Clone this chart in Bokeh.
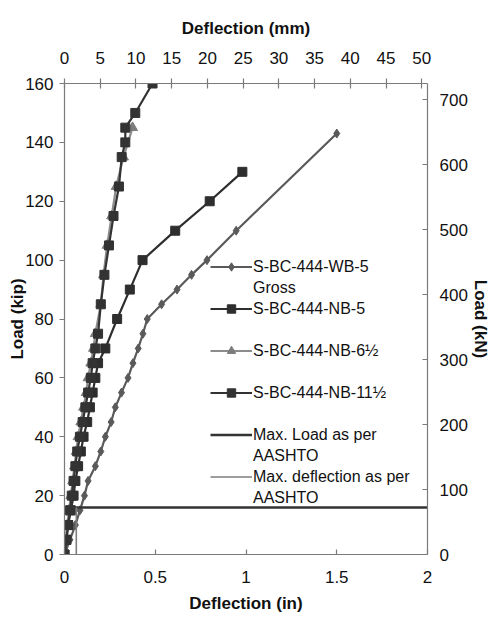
import math
from bokeh.plotting import figure
from bokeh.models import Range1d, LinearAxis, FixedTicker, Legend, LegendItem, NumeralTickFormatter
from bokeh.embed import file_html
from bokeh.resources import INLINE

# ---------------- data (deflection in inches, load in kip) ----------------
wb5_load = [0, 5, 10, 15, 20, 25, 30, 35, 40, 45, 50, 55, 60, 65, 70, 75, 80, 85, 90, 95, 100, 110, 143]
wb5_defl = [0, 0.03, 0.06, 0.085, 0.11, 0.13, 0.17, 0.20, 0.225, 0.257, 0.28, 0.314, 0.35, 0.377,
            0.406, 0.432, 0.456, 0.535, 0.62, 0.70, 0.785, 0.946, 1.50]

nb5_load = [0, 5, 10, 15, 20, 25, 30, 35, 40, 45, 50, 55, 60, 65, 70, 80, 90, 100, 110, 120, 130]
nb5_defl = [0, 0.01, 0.02, 0.035, 0.05, 0.06, 0.075, 0.09, 0.105, 0.125, 0.14, 0.155, 0.17, 0.185,
            0.225, 0.29, 0.36, 0.43, 0.61, 0.80, 0.98]

nb6_load = [0, 5, 10, 15, 20, 25, 30, 35, 40, 45, 50, 55, 60, 65, 70, 75, 85, 95, 105, 115, 125, 135, 145]
nb6_defl = [0, 0.005, 0.015, 0.025, 0.035, 0.045, 0.055, 0.065, 0.075, 0.09, 0.105, 0.12, 0.13, 0.145,
            0.16, 0.17, 0.20, 0.215, 0.235, 0.26, 0.285, 0.325, 0.375]

nb11_load = [0, 5, 10, 15, 20, 25, 30, 35, 40, 45, 50, 55, 60, 65, 70, 75, 85, 95, 105, 115, 125, 135,
             140, 145, 150, 160]
nb11_defl = [0, 0.01, 0.02, 0.03, 0.04, 0.05, 0.06, 0.07, 0.085, 0.10, 0.115, 0.13, 0.145, 0.155, 0.17,
             0.185, 0.20, 0.22, 0.245, 0.27, 0.30, 0.315, 0.335, 0.335, 0.39, 0.485]

max_load_kip = 16
max_defl_in = 0.065

x_min_in, x_max_in = 0, 2
y_min_kip, y_max_kip = 0, 160
x_ticks_in = [0, 0.5, 1, 1.5, 2]
y_ticks_kip = [0, 20, 40, 60, 80, 100, 120, 140, 160]
x_ticks_mm = [0, 5, 10, 15, 20, 25, 30, 35, 40, 45, 50]
y_ticks_kn = [0, 100, 200, 300, 400, 500, 600, 700]
mm_max = 50.8
kn_max = 725

labels = ["S-BC-444-WB-5", "Gross", "S-BC-444-NB-5", " ", "S-BC-444-NB-6\u00bd", " ",
          "S-BC-444-NB-11\u00bd", " ", "Max. Load as per", "AASHTO", "Max. deflection as per", "AASHTO"]

FONT = "Liberation Sans"

p = figure(width=492, height=616, output_backend="svg", toolbar_location=None,
           x_range=Range1d(x_min_in, x_max_in), y_range=Range1d(y_min_kip, y_max_kip),
           min_border_left=64, min_border_right=64, min_border_top=83, min_border_bottom=62,
           background_fill_color="white", border_fill_color="white")
p.outline_line_color = None
p.grid.visible = False
p.extra_x_ranges = {"mm": Range1d(0, mm_max)}
p.extra_y_ranges = {"kN": Range1d(0, kn_max)}

AX = "#7a7a7a"


def style_axis(ax, label, tin, tout, lstand, astand):
    ax.axis_label = label
    ax.axis_label_text_font = FONT
    ax.axis_label_text_font_size = "17px"
    ax.axis_label_text_font_style = "bold"
    ax.axis_label_text_color = "#111111"
    ax.major_label_text_font = FONT
    ax.major_label_text_font_size = "17px"
    ax.major_label_text_color = "#111111"
    ax.axis_line_color = AX
    ax.axis_line_width = 1.2
    ax.major_tick_line_color = AX
    ax.major_tick_line_width = 1.2
    ax.minor_tick_line_color = None
    ax.major_tick_in = tin
    ax.major_tick_out = tout
    ax.major_label_standoff = lstand
    ax.axis_label_standoff = astand


# bottom (inches)
xb = p.xaxis[0]
xb.ticker = FixedTicker(ticks=x_ticks_in)
xb.formatter = NumeralTickFormatter(format="0.[0]")
style_axis(xb, "Deflection (in)", 5, 0, 16, 8)

# left (kip)
yl = p.yaxis[0]
yl.ticker = FixedTicker(ticks=y_ticks_kip)
style_axis(yl, "Load (kip)", 0, 5, 6, -5)

# top (mm)
xt = LinearAxis(x_range_name="mm", ticker=FixedTicker(ticks=x_ticks_mm))
style_axis(xt, "Deflection (mm)", 5, 5, 15, 11)
p.add_layout(xt, "above")

# right (kN)
yr = LinearAxis(y_range_name="kN", ticker=FixedTicker(ticks=y_ticks_kn))
style_axis(yr, "Load (kN)", 5, 0, 12, 0)
p.add_layout(yr, "right")

# ---------------- series ----------------
C_WB = "#5a5a5a"
C_NB5 = "#2e2e2e"
C_NB6 = "#8c8c8c"
C_NB11 = "#333333"

r_wb_l = p.line(wb5_defl, wb5_load, line_color=C_WB, line_width=2.2)
r_wb_m = p.scatter(wb5_defl, wb5_load, marker="diamond", size=9, fill_color=C_WB, line_color=C_WB)

r_nb5_l = p.line(nb5_defl, nb5_load, line_color=C_NB5, line_width=2.2)
r_nb5_m = p.scatter(nb5_defl, nb5_load, marker="square", size=9, fill_color=C_NB5, line_color=C_NB5)

r_nb6_l = p.line(nb6_defl, nb6_load, line_color=C_NB6, line_width=2.2)
r_nb6_m = p.scatter(nb6_defl, nb6_load, marker="triangle", size=10, fill_color="#7c7c7c", line_color="#7c7c7c")

r_nb11_l = p.line(nb11_defl, nb11_load, line_color=C_NB11, line_width=2.2)
r_nb11_m = p.scatter(nb11_defl, nb11_load, marker="square", size=9, fill_color=C_NB11, line_color=C_NB11)

r_load = p.segment(x0=[x_min_in], y0=[max_load_kip], x1=[x_max_in], y1=[max_load_kip],
                   line_color="#333333", line_width=2.5)
r_defl = p.segment(x0=[max_defl_in], y0=[y_min_kip], x1=[max_defl_in], y1=[max_load_kip],
                   line_color="#7e7e7e", line_width=1.6)

blank = p.line(x=[], y=[], line_alpha=0)

renderers = [[r_wb_l, r_wb_m], [blank], [r_nb5_l, r_nb5_m], [blank], [r_nb6_l, r_nb6_m], [blank],
             [r_nb11_l, r_nb11_m], [blank], [r_load], [blank], [r_defl], [blank]]
items = [LegendItem(label=lab, renderers=rs) for lab, rs in zip(labels, renderers)]

legend = Legend(items=items, location=(146, 46), orientation="vertical",
                glyph_width=42, glyph_height=21, label_height=21, label_width=10,
                label_standoff=1, spacing=0, padding=0, margin=0,
                border_line_color=None, background_fill_alpha=0,
                label_text_font=FONT, label_text_font_size="16px", label_text_color="#111111")
p.add_layout(legend)

open("out.html", "w").write(file_html(p, INLINE))
